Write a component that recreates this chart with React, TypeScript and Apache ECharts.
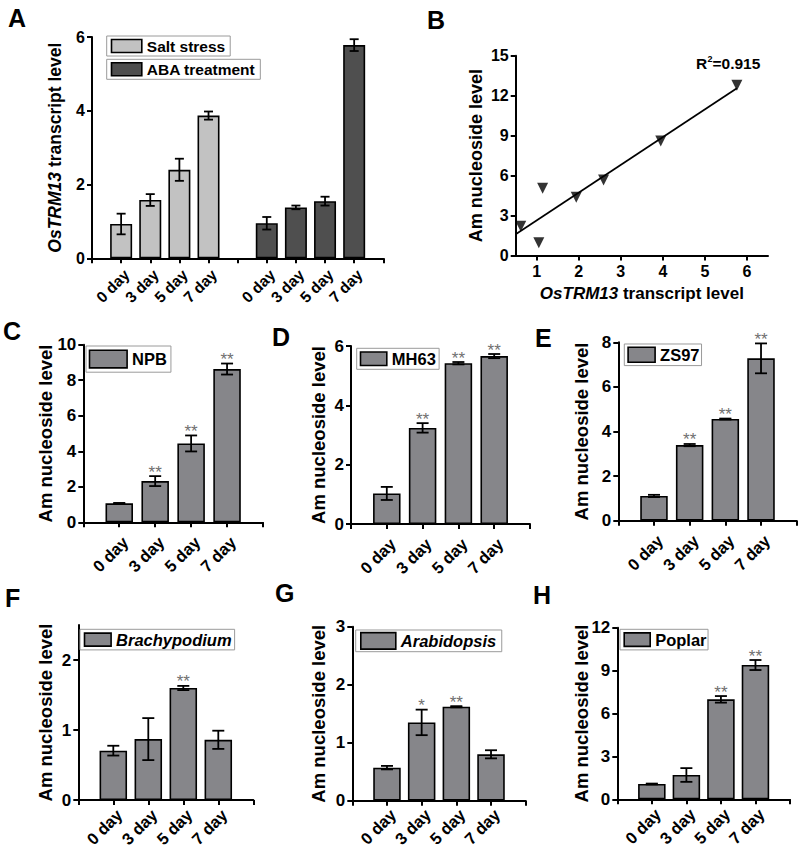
import React, { useEffect, useRef } from 'react';
import * as echarts from 'echarts';

// ---------- data ----------
const dayLabels = ['0 day', '3 day', '5 day', '7 day'];

// Panel A
const saltMean = [0.93, 1.58, 2.4, 3.87];
const saltErr = [0.28, 0.16, 0.3, 0.11];
const abaMean = [0.95, 1.38, 1.55, 5.78];
const abaErr = [0.17, 0.05, 0.12, 0.16];

// Panel B
const bTranscript = [0.62, 1.05, 1.14, 1.94, 2.59, 3.95, 5.76];
const bAm = [2.2, 0.95, 5.05, 4.37, 5.67, 8.6, 12.78];
const fitX = [0.5, 5.76];
const fitY = [1.59, 12.55];
const rSquared = '=0.915';

// Panels C-H
const npbMean = [1.07, 2.32, 4.44, 8.63];
const npbErr = [0.02, 0.28, 0.45, 0.31];
const npbSig = ['', '**', '**', '**'];

const mh63Mean = [1.03, 3.24, 5.42, 5.66];
const mh63Err = [0.22, 0.16, 0.04, 0.07];
const mh63Sig = ['', '**', '**', '**'];

const zs97Mean = [1.11, 3.39, 4.56, 7.28];
const zs97Err = [0.05, 0.05, 0.02, 0.67];
const zs97Sig = ['', '**', '**', '**'];

const brachyMean = [0.705, 0.87, 1.6, 0.86];
const brachyErr = [0.07, 0.3, 0.03, 0.13];
const brachySig = ['', '', '**', ''];

const arabMean = [0.57, 1.35, 1.62, 0.8];
const arabErr = [0.03, 0.22, 0.01, 0.07];
const arabSig = ['', '*', '**', ''];

const poplarMean = [1.07, 1.7, 6.99, 9.39];
const poplarErr = [0.03, 0.48, 0.23, 0.35];
const poplarSig = ['', '', '**', '**'];

// slot positions on the x axes
const slotsSingle = [1, 2, 3, 4];
const slotsA1 = [1, 2, 3, 4];
const slotsA2 = [6, 7, 8, 9];

// ---------- styling ----------
const FONT = '"Liberation Sans", Arial, Helvetica, sans-serif';
const BAR_GRAY = '#86868a';
const LIGHT = '#c2c2c2';
const DARK = '#4f4f4f';

const axisLine = { show: true, onZero: false, lineStyle: { color: '#000', width: 2 } };
const tick = (vals?: number[]) => ({
  show: true,
  length: 5,
  inside: false,
  lineStyle: { color: '#000', width: 2 },
  ...(vals ? { customValues: vals } : {}),
});
const labelStyle = (size: number) => ({
  color: '#000',
  fontSize: size,
  fontWeight: 'bold',
  fontFamily: FONT,
});

function errRender(sigs: string[] | null, capHalf: number) {
  return (params: any, api: any) => {
    const x = api.value(0);
    const y = api.value(1);
    const e = api.value(2);
    const top = api.coord([x, y + e]);
    const bot = api.coord([x, y - e]);
    const style = { stroke: '#000', lineWidth: 1.8 };
    const children: any[] = [
      { type: 'line', shape: { x1: top[0], y1: top[1], x2: bot[0], y2: bot[1] }, style },
      { type: 'line', shape: { x1: top[0] - capHalf, y1: top[1], x2: top[0] + capHalf, y2: top[1] }, style },
      { type: 'line', shape: { x1: bot[0] - capHalf, y1: bot[1], x2: bot[0] + capHalf, y2: bot[1] }, style },
    ];
    const s = sigs ? sigs[params.dataIndex] : '';
    if (s) {
      children.push({
        type: 'text',
        style: {
          text: s,
          x: top[0],
          y: top[1] - 4,
          align: 'center',
          verticalAlign: 'middle',
          font: `17px ${FONT}`,
          fill: '#707070',
        },
      });
    }
    return { type: 'group', children };
  };
}

interface BarPanel {
  name: string;
  mean: number[];
  err: number[];
  sig: string[];
  grid: any;
  yMax: number;
  yInt: number;
  yTicks?: number[];
  nameGap: number;
  labelMargin: number;
  italic: boolean;
  legend: any;
}

const barPanels: BarPanel[] = [
  {
    name: 'NPB', mean: npbMean, err: npbErr, sig: npbSig,
    grid: { left: 83.3, top: 344.7, width: 179.7, height: 177.6 },
    yMax: 10, yInt: 2, nameGap: 28, labelMargin: 11, italic: false,
    legend: { left: 86, top: 346, itemWidth: 37.6, itemHeight: 17.6, padding: [3.5, 4, 3.5, 2.7] },
  },
  {
    name: 'MH63', mean: mh63Mean, err: mh63Err, sig: mh63Sig,
    grid: { left: 351, top: 346, width: 179, height: 178 },
    yMax: 6, yInt: 2, nameGap: 23, labelMargin: 11, italic: false,
    legend: { left: 356.7, top: 348.3, itemWidth: 26.3, itemHeight: 13.5, padding: [2, 3.3, 2, 3] },
  },
  {
    name: 'ZS97', mean: zs97Mean, err: zs97Err, sig: zs97Sig,
    grid: { left: 618.3, top: 342.3, width: 178.4, height: 178.4 },
    yMax: 8, yInt: 2, nameGap: 27, labelMargin: 11, italic: false,
    legend: { left: 624.3, top: 344, itemWidth: 27, itemHeight: 15, padding: [2.3, 2, 2.3, 3] },
  },
  {
    name: 'Brachypodium', mean: brachyMean, err: brachyErr, sig: brachySig,
    grid: { left: 78.3, top: 625, width: 175, height: 175 },
    yMax: 2.5, yInt: 1, yTicks: [0, 1, 2], nameGap: 23, labelMargin: 6, italic: true,
    legend: { left: 80, top: 629.3, itemWidth: 26.6, itemHeight: 13, padding: [1.8, 3, 1.8, 3.7] },
  },
  {
    name: 'Arabidopsis', mean: arabMean, err: arabErr, sig: arabSig,
    grid: { left: 352.3, top: 626.7, width: 173.4, height: 174 },
    yMax: 3, yInt: 1, nameGap: 24, labelMargin: 5, italic: true,
    legend: { left: 355.7, top: 630, itemWidth: 35, itemHeight: 16.5, padding: [1.8, 5.6, 1.8, 4.3] },
  },
  {
    name: 'Poplar', mean: poplarMean, err: poplarErr, sig: poplarSig,
    grid: { left: 617.3, top: 627.7, width: 172.7, height: 171.6 },
    yMax: 12, yInt: 3, nameGap: 26, labelMargin: 6, italic: false,
    legend: { left: 620, top: 629.3, itemWidth: 26, itemHeight: 13.5, padding: [1.8, 1.5, 1.8, 3.4] },
  },
];

function buildOption() {
  const grids: any[] = [];
  const xAxes: any[] = [];
  const yAxes: any[] = [];
  const series: any[] = [];
  const legends: any[] = [];

  const legendBase = (size: number, italic = false) => ({
    orient: 'horizontal',
    itemGap: 0,
    borderColor: '#9a9a9a',
    borderWidth: 1,
    borderRadius: 0,
    backgroundColor: '#fff',
    icon: 'rect',
    selectedMode: false,
    textStyle: { ...labelStyle(size), fontStyle: italic ? 'italic' : 'normal' },
  });

  // ----- Panel A -----
  grids.push({ left: 92, top: 37, width: 291.3, height: 221.3, outerBoundsMode: 'none' });
  xAxes.push({
    type: 'value', gridIndex: 0, min: 0, max: 10,
    axisLine, axisTick: tick([0, 1, 2, 3, 4, 5, 6, 7, 8, 9, 10]),
    axisLabel: {
      ...labelStyle(15.5), rotate: 45, margin: 8, verticalAlign: 'top',
      customValues: [...slotsA1, ...slotsA2],
      formatter: (v: number) => {
        const i = Math.round(v);
        if (i >= 1 && i <= 4) return dayLabels[i - 1];
        if (i >= 6 && i <= 9) return dayLabels[i - 6];
        return '';
      },
    },
    splitLine: { show: false },
  });
  yAxes.push({
    type: 'value', gridIndex: 0, min: 0, max: 6, interval: 2,
    axisLine, axisTick: tick(),
    axisLabel: { ...labelStyle(16), margin: 7 },
    splitLine: { show: false },
    name: '{i|OsTRM13} transcript level',
    nameLocation: 'middle', nameGap: 28, nameMoveOverlap: false,
    nameTextStyle: {
      ...labelStyle(17.5),
      rich: { i: { ...labelStyle(17.5), fontStyle: 'italic' } },
    },
  });
  const aSeries = [
    { name: 'Salt stress', mean: saltMean, err: saltErr, slots: slotsA1, color: LIGHT },
    { name: 'ABA treatment', mean: abaMean, err: abaErr, slots: slotsA2, color: DARK },
  ];
  aSeries.forEach((s) => {
    series.push({
      type: 'bar', name: s.name, xAxisIndex: 0, yAxisIndex: 0,
      barWidth: 22, barGap: '-100%',
      itemStyle: { color: s.color, borderColor: '#000', borderWidth: 1.6 },
      data: s.mean.map((v, i) => [s.slots[i], v]),
    });
    series.push({
      type: 'custom', name: s.name + ' error', xAxisIndex: 0, yAxisIndex: 0, z: 5,
      renderItem: errRender(null, 4.5),
      data: s.mean.map((v, i) => [s.slots[i], v, s.err[i]]),
    });
  });
  legends.push({
    ...legendBase(15.5), data: ['Salt stress'], left: 106.7, top: 36,
    itemWidth: 30.3, itemHeight: 13, padding: [2, 5, 2, 4],
    itemStyle: { borderColor: '#000', borderWidth: 1.6 },
  });
  legends.push({
    ...legendBase(15.5), data: ['ABA treatment'], left: 106.7, top: 59.3,
    itemWidth: 30.3, itemHeight: 13, padding: [2, 5, 2, 4],
    itemStyle: { borderColor: '#000', borderWidth: 1.6 },
  });

  // ----- Panel B -----
  grids.push({ left: 515.7, top: 55.7, width: 252.3, height: 199.8, outerBoundsMode: 'none' });
  xAxes.push({
    type: 'value', gridIndex: 1, min: 0.5, max: 6.5,
    axisLine, axisTick: tick([1, 2, 3, 4, 5, 6]),
    axisLabel: { ...labelStyle(16), margin: 8, customValues: [1, 2, 3, 4, 5, 6] },
    splitLine: { show: false },
    name: '{i|OsTRM13} transcript level',
    nameLocation: 'middle', nameGap: 29, nameMoveOverlap: false,
    nameTextStyle: {
      ...labelStyle(17),
      rich: { i: { ...labelStyle(17), fontStyle: 'italic' } },
    },
  });
  yAxes.push({
    type: 'value', gridIndex: 1, min: 0, max: 15, interval: 3,
    axisLine, axisTick: tick(),
    axisLabel: { ...labelStyle(16), margin: 7 },
    splitLine: { show: false },
    name: 'Am nucleoside level',
    nameLocation: 'middle', nameGap: 31, nameMoveOverlap: false,
    nameTextStyle: labelStyle(18),
  });
  series.push({
    type: 'line', name: 'fit', xAxisIndex: 1, yAxisIndex: 1,
    symbol: 'none', lineStyle: { color: '#000', width: 1.7 },
    data: fitX.map((x, i) => [x, fitY[i]]),
    z: 2,
  });
  series.push({
    type: 'scatter', name: 'points', xAxisIndex: 1, yAxisIndex: 1,
    symbol: 'triangle', symbolRotate: 180, symbolSize: 11,
    itemStyle: { color: '#000' },
    data: bTranscript.map((x, i) => [x, bAm[i]]),
    z: 3,
  });

  // ----- Panels C-H -----
  barPanels.forEach((p, k) => {
    const gi = k + 2;
    grids.push({ ...p.grid, outerBoundsMode: 'none' });
    xAxes.push({
      type: 'value', gridIndex: gi, min: 0, max: 5,
      axisLine, axisTick: tick([0, 1, 2, 3, 4, 5]),
      axisLabel: {
        ...labelStyle(16.5), rotate: 45, margin: p.labelMargin, verticalAlign: 'top',
        customValues: slotsSingle,
        formatter: (v: number) => dayLabels[Math.round(v) - 1] ?? '',
      },
      splitLine: { show: false },
    });
    yAxes.push({
      type: 'value', gridIndex: gi, min: 0, max: p.yMax,
      ...(p.yTicks ? {} : { interval: p.yInt }),
      axisLine,
      axisTick: tick(p.yTicks),
      axisLabel: { ...labelStyle(17), margin: 7, ...(p.yTicks ? { customValues: p.yTicks } : {}) },
      splitLine: { show: false },
      name: 'Am nucleoside level',
      nameLocation: 'middle', nameGap: p.nameGap, nameMoveOverlap: false,
      nameTextStyle: labelStyle(18.5),
    });
    series.push({
      type: 'bar', name: p.name, xAxisIndex: gi, yAxisIndex: gi,
      barWidth: 27.5,
      itemStyle: { color: BAR_GRAY, borderColor: '#000', borderWidth: 1.6 },
      data: p.mean.map((v, i) => [slotsSingle[i], v]),
    });
    series.push({
      type: 'custom', name: p.name + ' error', xAxisIndex: gi, yAxisIndex: gi, z: 5,
      renderItem: errRender(p.sig, 6),
      data: p.mean.map((v, i) => [slotsSingle[i], v, p.err[i]]),
    });
    legends.push({
      ...legendBase(16.5, p.italic), data: [p.name], ...p.legend,
      itemStyle: { borderColor: '#000', borderWidth: 1.6 },
    });
  });

  const letter = (t: string, x: number, y: number) => ({
    type: 'text', x, y,
    style: { text: t, font: `bold 25px ${FONT}`, fill: '#000', verticalAlign: 'middle', align: 'left' },
  });

  const graphic = [
    letter('A', 8, 18),
    letter('B', 427, 19.5),
    letter('C', 3, 331),
    letter('D', 272, 336.7),
    letter('E', 535, 337.5),
    letter('F', 5, 598.3),
    letter('G', 275, 593.3),
    letter('H', 533, 594.7),
    {
      type: 'text', x: 696, y: 63.3,
      style: { text: 'R', font: `bold 15.5px ${FONT}`, fill: '#000', verticalAlign: 'middle', align: 'left' },
    },
    {
      type: 'text', x: 707.5, y: 59,
      style: { text: '2', font: `bold 9px ${FONT}`, fill: '#000', verticalAlign: 'middle', align: 'left' },
    },
    {
      type: 'text', x: 712.5, y: 63.3,
      style: { text: rSquared, font: `bold 15.5px ${FONT}`, fill: '#000', verticalAlign: 'middle', align: 'left' },
    },
  ];

  return {
    animation: false,
    backgroundColor: '#fff',
    textStyle: { fontFamily: FONT },
    grid: grids,
    xAxis: xAxes,
    yAxis: yAxes,
    legend: legends,
    series,
    graphic,
  };
}

export default function App() {
  const ref = useRef<HTMLDivElement>(null);
  useEffect(() => {
    if (!ref.current) return;
    const chart = echarts.init(ref.current, null, { renderer: 'svg', width: 800, height: 852 });
    chart.setOption(buildOption() as any);
    return () => chart.dispose();
  }, []);
  return (
    <div
      ref={ref}
      style={{ position: 'absolute', left: 0, top: 0, width: 800, height: 852, background: '#fff' }}
    />
  );
}
